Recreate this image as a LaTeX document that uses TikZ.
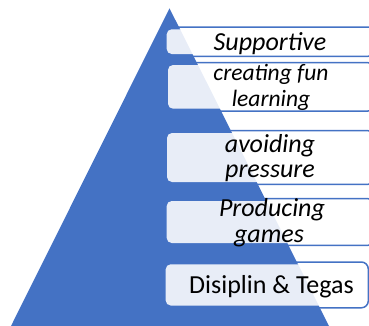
\documentclass[tikz,border=0pt]{standalone}
\usepackage{fontspec}
\setmainfont{Carlito}
\definecolor{pyrblue}{HTML}{4472C4}
\begin{document}
\begin{tikzpicture}[x=1pt,y=-1pt,
  tierrim/.style={draw=pyrblue,line width=1.5pt,rounded corners=7pt},
  tierfill/.style={fill=white,fill opacity=0.88,rounded corners=5pt},
  tiertext/.style={anchor=base,inner sep=0pt,font=\itshape\fontsize{26}{30}\selectfont},
  tiersmall/.style={anchor=base,inner sep=0pt,font=\itshape\fontsize{23.5}{27}\selectfont},
  tierplain/.style={anchor=base,inner sep=0pt,font=\fontsize{26}{30}\selectfont}]
\useasboundingbox (0,0) rectangle (369,325);

% pyramid
\fill[pyrblue] (169.5,8.3) -- (329,326) -- (11,326) -- cycle;

% tier outlines
\draw[tierrim] (164.4,27.0) rectangle (375,56.3);
\draw[tierrim] (165.7,62.7) rectangle (375,111.0);
\draw[tierrim] (164.7,130.7) rectangle (375,184.3);
\draw[tierrim] (164.4,198.7) rectangle (375,245.3);
\draw[tierrim] (163.4,262.0) rectangle (368.3,307.8);

% tier panels
\fill[tierfill] (166.7,29.3) rectangle (373,54.0);
\fill[tierfill] (168.0,65.0) rectangle (373,108.7);
\fill[tierfill] (167.0,133.0) rectangle (373,182.0);
\fill[tierfill] (166.7,201.0) rectangle (373,243.0);
\fill[tierfill] (165.7,264.3) rectangle (366.0,305.5);

% labels
\node[tiertext]  (supp)  at (270,50.0)  {Supportive};
\node[tiersmall] (fun1)  at (271,80.7)  {creating fun};
\node[tiersmall] (fun2)  at (271,106.3) {learning};
\node[tiertext]  (avo1)  at (270,152.0) {avoiding};
\node[tiertext]  (avo2)  at (270,177.5) {pressure};
\node[tiertext]  (prod1) at (272,216.7) {Producing};
\node[tiertext]  (prod2) at (269,242.8) {games};
\node[tierplain] (disc)  at (271.5,293.0) {Disiplin \& Tegas};
\end{tikzpicture}
\end{document}
